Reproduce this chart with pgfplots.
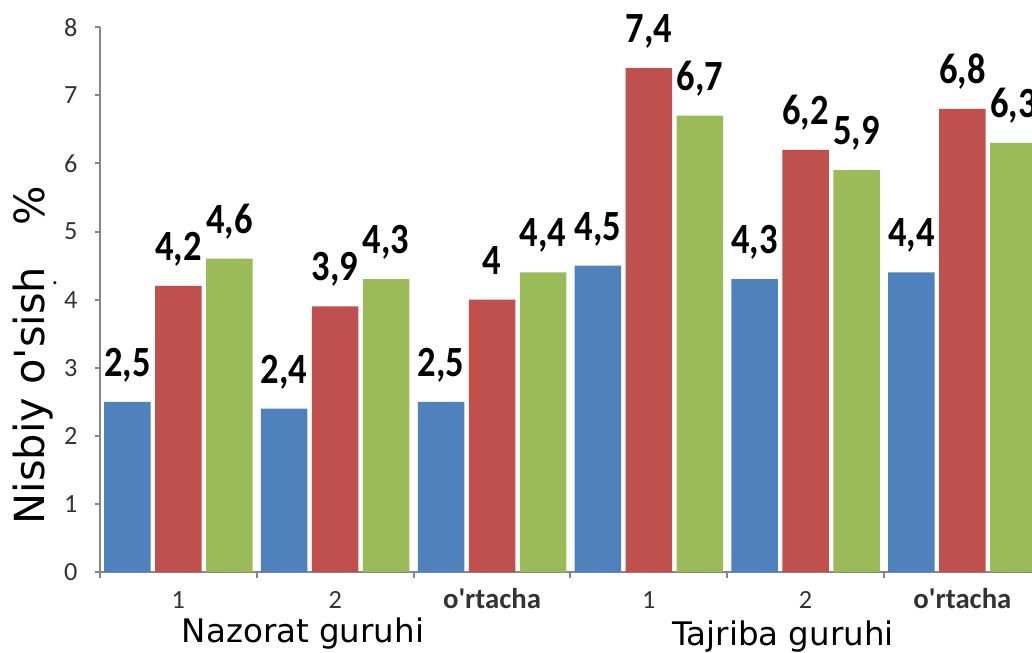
\documentclass[border=0pt]{standalone}
\usepackage{fontspec}
\setmainfont{Carlito}
\newfontfamily\dejavu{DejaVu Sans}
\usepackage{pgfplots}
\pgfplotsset{compat=1.18}
\definecolor{cblue}{HTML}{4F81BD}
\definecolor{cred}{HTML}{C0504D}
\definecolor{cgreen}{HTML}{9BBB59}
\definecolor{axgray}{HTML}{868686}
\begin{document}
\begin{tikzpicture}
\begin{axis}[
  x=62.72pt, y=27.24pt,
  xmin=-0.5, xmax=5.6, ymin=0, ymax=8,
  axis lines*=left,
  axis line style={axgray, line width=0.8pt},
  ybar=1.8pt, bar width=18.6pt,
  ytick={0,...,8},
  xtick={0,...,5},
  xticklabels={1,2,{\fontsize{11.5}{12}\selectfont\bfseries o\textquotesingle rtacha},1,2,{\fontsize{11.5}{12}\selectfont\bfseries o\textquotesingle rtacha}},
  minor xtick={-0.5,0.5,...,5.5},
  every major x tick/.append style={draw=none},
  tick style={axgray, line width=0.8pt},
  tick align=outside,
  major tick length=2pt,
  minor tick length=2.4pt,
  ticklabel style={font=\fontsize{10.5}{12}\selectfont, text=black!80},
  xticklabel style={anchor=base, yshift=-12.4pt},
  yticklabel style={anchor=east, inner sep=0pt, xshift=-6.8pt},
  /pgf/number format/assume math mode=true,
  /pgf/number format/use comma,
  nodes near coords={\scalebox{1}[1.18]{\pgfmathprintnumber{\pgfplotspointmeta}}},
  every node near coord/.append style={font=\fontsize{14.6}{15}\selectfont\bfseries, anchor=base, yshift=10.2pt, text=black, inner sep=0pt},
  clip=false,
]
\addplot[fill=cblue, draw=none] coordinates {(0,2.5) (1,2.4) (2,2.5) (3,4.5) (4,4.3) (5,4.4)};
\addplot[fill=cred, draw=none] coordinates {(0,4.2) (1,3.9) (2,4.0) (3,7.4) (4,6.2) (5,6.8)};
\addplot[fill=cgreen, draw=none] coordinates {(0,4.6) (1,4.3) (2,4.4) (3,6.7) (4,5.9) (5,6.3)};
\coordinate (O) at (axis cs:-0.5,0);
\end{axis}
\node[font=\dejavu\fontsize{13}{14}\selectfont, anchor=base, inner sep=0pt] at ([shift={(81.2pt,-28pt)}]O) {Nazorat guruhi};
\node[font=\dejavu\fontsize{13}{14}\selectfont, anchor=base, inner sep=0pt] at ([shift={(273.2pt,-29.2pt)}]O) {Tajriba guruhi};
\node[rotate=90, anchor=base west, inner sep=0pt, font=\dejavu\fontsize{16.6}{18}\selectfont] at ([shift={(-22pt,18.8pt)}]O) {Nisbiy o\textquotesingle sish};
\node[rotate=90, anchor=base west, inner sep=0pt, font=\dejavu\fontsize{16.6}{18}\selectfont] at ([shift={(-22pt,138.4pt)}]O) {\%};
\node[inner sep=0pt, font=\fontsize{10}{12}\selectfont] at ([shift={(-18pt,115.6pt)}]O) {.};
\pgfresetboundingbox
\path[use as bounding box] ([shift={(-40pt,-32pt)}]O) rectangle ([shift={(372.8pt,228.8pt)}]O);
\end{tikzpicture}
\end{document}
